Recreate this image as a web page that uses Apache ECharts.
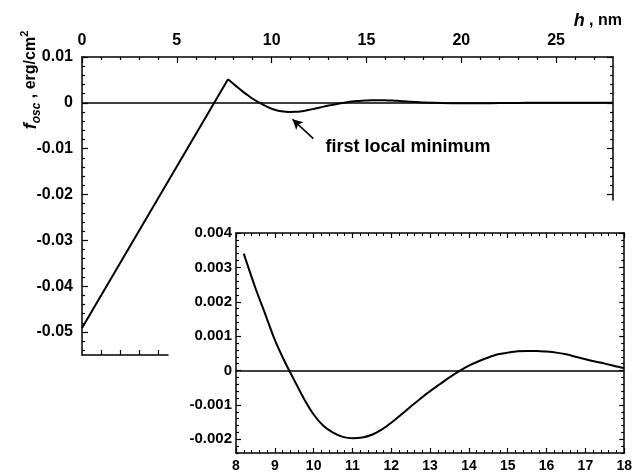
<!DOCTYPE html>
<html><head><meta charset="utf-8">
<script src="https://cdn.jsdelivr.net/npm/echarts@6/dist/echarts.min.js"></script>
<style>html,body{margin:0;padding:0;background:#fff}#c{width:635px;height:473px}</style>
</head><body><div id="c"></div>
<script>
// ---- data ----
const riseH = [0, 7.7];
const riseF = [-0.0491, 0.00515];
const insetH = [8.2, 8.5, 8.75, 9.0, 9.25, 9.5, 9.75, 10.0, 10.25, 10.5, 10.75, 11.0, 11.25, 11.5, 11.75, 12.0, 12.25, 12.5, 12.75, 13.0, 13.25, 13.5, 13.75, 14.0, 14.25, 14.5, 14.75, 15.0, 15.25, 15.5, 15.75, 16.0, 16.25, 16.5, 16.75, 17.0, 17.25, 17.5, 17.75, 18.0];
const insetF = [0.0034, 0.0024, 0.00165, 0.00089, 0.00027, -0.00028, -0.00082, -0.00128, -0.00161, -0.00181, -0.00193, -0.00197, -0.00195, -0.00187, -0.00172, -0.00152, -0.00129, -0.00105, -0.00082, -0.0006, -0.0004, -0.0002, -0.00002, 0.00014, 0.00027, 0.00038, 0.00047, 0.00052, 0.00056, 0.00057, 0.00057, 0.00055, 0.00052, 0.00047, 0.0004, 0.00033, 0.00026, 0.0002, 0.00013, 0.00007];
const tailH = [19, 20, 21, 22, 23, 24, 25, 26, 27, 28];
const tailF = [-0.00004, -0.00009, -0.0001, -0.00006, -0.00002, 0.00001, 0.00002, 0.00001, 0, 0];
const mainXTicks = [0, 5, 10, 15, 20, 25];
const mainYTicks = [-0.05, -0.04, -0.03, -0.02, -0.01, 0, 0.01];
const bottomStubTicks = [1, 2, 3, 4];
const insetYTicks = [-0.002, -0.001, 0, 0.001, 0.002, 0.003, 0.004];
const annotationText = 'first local minimum';
const arrowFrom = [12.2, -0.0078];
const arrowTo = [11.1, -0.0036];

// ---- derived tick lists ----
const mainXMinor = [];
for (let i = 1; i < 28; i++) if (i % 5 !== 0) mainXMinor.push(i);
const mainYMinor = [];
for (let k = -27; k <= 4; k++) if (k % 5 !== 0) mainYMinor.push(+(k * 0.002).toFixed(4));
const rightYMinor = mainYMinor.filter(v => v >= -0.021);
const insetYMinor = [];
for (let k = -12; k <= 20; k++) if (k % 5 !== 0) insetYMinor.push(+(k * 0.0002).toFixed(5));

const FONT = 'Liberation Sans, Arial, sans-serif';
const BLACK = '#000';
const AXW = 1.5;

function ax(o) {
  return Object.assign({
    type: 'value',
    splitLine: { show: false },
    axisLine: { show: false, onZero: false },
    axisTick: { show: false },
    axisLabel: { show: false }
  }, o);
}
const lineOn = { show: true, onZero: false, lineStyle: { color: BLACK, width: AXW } };
function ticks(vals, len) {
  return { show: true, inside: true, length: len, customValues: vals, lineStyle: { color: BLACK, width: 1.2 } };
}
const lblStyle = { fontFamily: FONT, fontWeight: 'bold', fontSize: 16, color: BLACK };

const MAIN_MIN = -0.055, MAIN_MAX = 0.01;
const RIGHT_MIN = 0.01 - 143 / 4585;

const chart = echarts.init(document.getElementById('c'), null, { renderer: 'canvas' });
chart.setOption({
  animation: false,
  backgroundColor: '#fff',
  grid: [
    { left: 82, top: 57, width: 531, height: 298 },
    { left: 82, top: 57, width: 531, height: 143 },
    { left: 82, top: 300, width: 86, height: 55 },
    { left: 236, top: 233, width: 391, height: 222, show: true, backgroundColor: '#fff', borderWidth: 0, z: 5 }
  ],
  xAxis: [
    ax({ gridIndex: 0, position: 'top', min: 0, max: 28, axisLine: lineOn,
         axisTick: ticks(mainXTicks, 6),
         axisLabel: Object.assign({ show: true, margin: 8, customValues: mainXTicks }, lblStyle) }),
    ax({ gridIndex: 0, position: 'top', min: 0, max: 28, axisTick: ticks(mainXMinor, 3) }),
    ax({ gridIndex: 1, position: 'bottom', min: 0, max: 28, show: false }),
    ax({ gridIndex: 2, position: 'bottom', min: 0, max: 86 / 18.96, axisLine: lineOn,
         axisTick: ticks(bottomStubTicks, 5) }),
    ax({ gridIndex: 3, position: 'bottom', min: 8, max: 18, interval: 1, z: 6, axisLine: lineOn,
         axisTick: { show: true, inside: true, length: 5, lineStyle: { color: BLACK, width: 1.2 } },
         minorTick: { show: true, splitNumber: 5, length: 3, lineStyle: { color: BLACK, width: 1 } },
         axisLabel: Object.assign({ show: true, margin: 6, formatter: v => String(v) }, lblStyle, { fontSize: 14 }) }),
    ax({ gridIndex: 3, position: 'top', min: 8, max: 18, interval: 1, z: 6, axisLine: lineOn,
         axisTick: { show: true, inside: true, length: 5, lineStyle: { color: BLACK, width: 1.2 } },
         minorTick: { show: true, splitNumber: 5, length: 3, lineStyle: { color: BLACK, width: 1 } } })
  ],
  yAxis: [
    ax({ gridIndex: 0, position: 'left', min: MAIN_MIN, max: MAIN_MAX, axisLine: lineOn,
         axisTick: ticks(mainYTicks, 6),
         axisLabel: Object.assign({ show: true, margin: 9, customValues: mainYTicks,
           formatter: v => Math.abs(v) < 1e-12 ? '0' : v.toFixed(2) }, lblStyle) }),
    ax({ gridIndex: 0, position: 'left', min: MAIN_MIN, max: MAIN_MAX, axisTick: ticks(mainYMinor, 3) }),
    ax({ gridIndex: 1, position: 'right', min: RIGHT_MIN, max: MAIN_MAX, axisLine: lineOn,
         axisTick: ticks([0.01, 0, -0.01, -0.02], 6) }),
    ax({ gridIndex: 1, position: 'right', min: RIGHT_MIN, max: MAIN_MAX, axisTick: ticks(rightYMinor, 3) }),
    ax({ gridIndex: 2, position: 'left', min: 0, max: 1, show: false }),
    ax({ gridIndex: 3, position: 'left', min: -0.0024, max: 0.004, z: 6, axisLine: lineOn,
         axisTick: ticks(insetYTicks, 5),
         axisLabel: Object.assign({ show: true, margin: 4, customValues: insetYTicks,
           formatter: v => Math.abs(v) < 1e-12 ? '0' : v.toFixed(3) }, lblStyle, { fontSize: 15 }) }),
    ax({ gridIndex: 3, position: 'left', min: -0.0024, max: 0.004, z: 6, axisTick: ticks(insetYMinor, 3) }),
    ax({ gridIndex: 3, position: 'right', min: -0.0024, max: 0.004, z: 6, axisLine: lineOn,
         axisTick: ticks(insetYTicks, 5) }),
    ax({ gridIndex: 3, position: 'right', min: -0.0024, max: 0.004, z: 6, axisTick: ticks(insetYMinor, 3) })
  ],
  series: [
    { type: 'line', xAxisIndex: 0, yAxisIndex: 0, symbol: 'none', silent: true,
      data: riseH.map((h, i) => [h, riseF[i]]),
      lineStyle: { color: BLACK, width: 2 },
      markLine: { silent: true, symbol: 'none', label: { show: false },
        lineStyle: { color: BLACK, width: 1.5, type: 'solid' }, data: [{ yAxis: 0 }] } },
    { type: 'line', xAxisIndex: 0, yAxisIndex: 0, symbol: 'none', silent: true, smooth: 0.3,
      data: [[riseH[1], riseF[1]]].concat(insetH.map((h, i) => [h, insetF[i]]), tailH.map((h, i) => [h, tailF[i]])),
      lineStyle: { color: BLACK, width: 2 },
      markLine: { silent: true, symbol: ['none', 'arrow'], symbolSize: [8, 10], label: { show: false },
        lineStyle: { color: BLACK, width: 1.5, type: 'solid' },
        data: [[{ coord: arrowFrom }, { coord: arrowTo }]] } },
    { type: 'line', xAxisIndex: 4, yAxisIndex: 5, symbol: 'none', silent: true, smooth: 0.3, z: 10,
      data: insetH.map((h, i) => [h, insetF[i]]),
      lineStyle: { color: BLACK, width: 2 },
      markLine: { silent: true, symbol: 'none', label: { show: false }, z: 10,
        lineStyle: { color: BLACK, width: 1.5, type: 'solid' }, data: [{ yAxis: 0 }] } }
  ],
  graphic: [
    { type: 'text', x: 31, y: 80, rotation: Math.PI / 2, z: 20,
      style: { text: '{f|f}{s|osc}{n| , erg/cm}{p|2}', textAlign: 'center', textVerticalAlign: 'middle',
        rich: {
          f: { fontFamily: FONT, fontWeight: 'bold', fontStyle: 'italic', fontSize: 18, lineHeight: 24, fill: BLACK },
          s: { fontFamily: FONT, fontWeight: 'bold', fontStyle: 'italic', fontSize: 12, lineHeight: 12, verticalAlign: 'bottom', fill: BLACK },
          n: { fontFamily: FONT, fontWeight: 'bold', fontSize: 16, lineHeight: 24, fill: BLACK },
          p: { fontFamily: FONT, fontWeight: 'bold', fontSize: 11, lineHeight: 12, verticalAlign: 'top', fill: BLACK }
        } } },
    { type: 'text', x: 622, y: 21, z: 20,
      style: { text: '{h|h}{n| , nm}', textAlign: 'right', textVerticalAlign: 'middle',
        rich: {
          h: { fontFamily: FONT, fontWeight: 'bold', fontStyle: 'italic', fontSize: 18, fill: BLACK },
          n: { fontFamily: FONT, fontWeight: 'bold', fontSize: 16, fill: BLACK }
        } } },
    { type: 'text', x: 408, y: 147, z: 20,
      style: { text: annotationText, textAlign: 'center', textVerticalAlign: 'middle',
        font: 'bold 18px ' + FONT, fill: BLACK } }
  ]
});
</script></body></html>
